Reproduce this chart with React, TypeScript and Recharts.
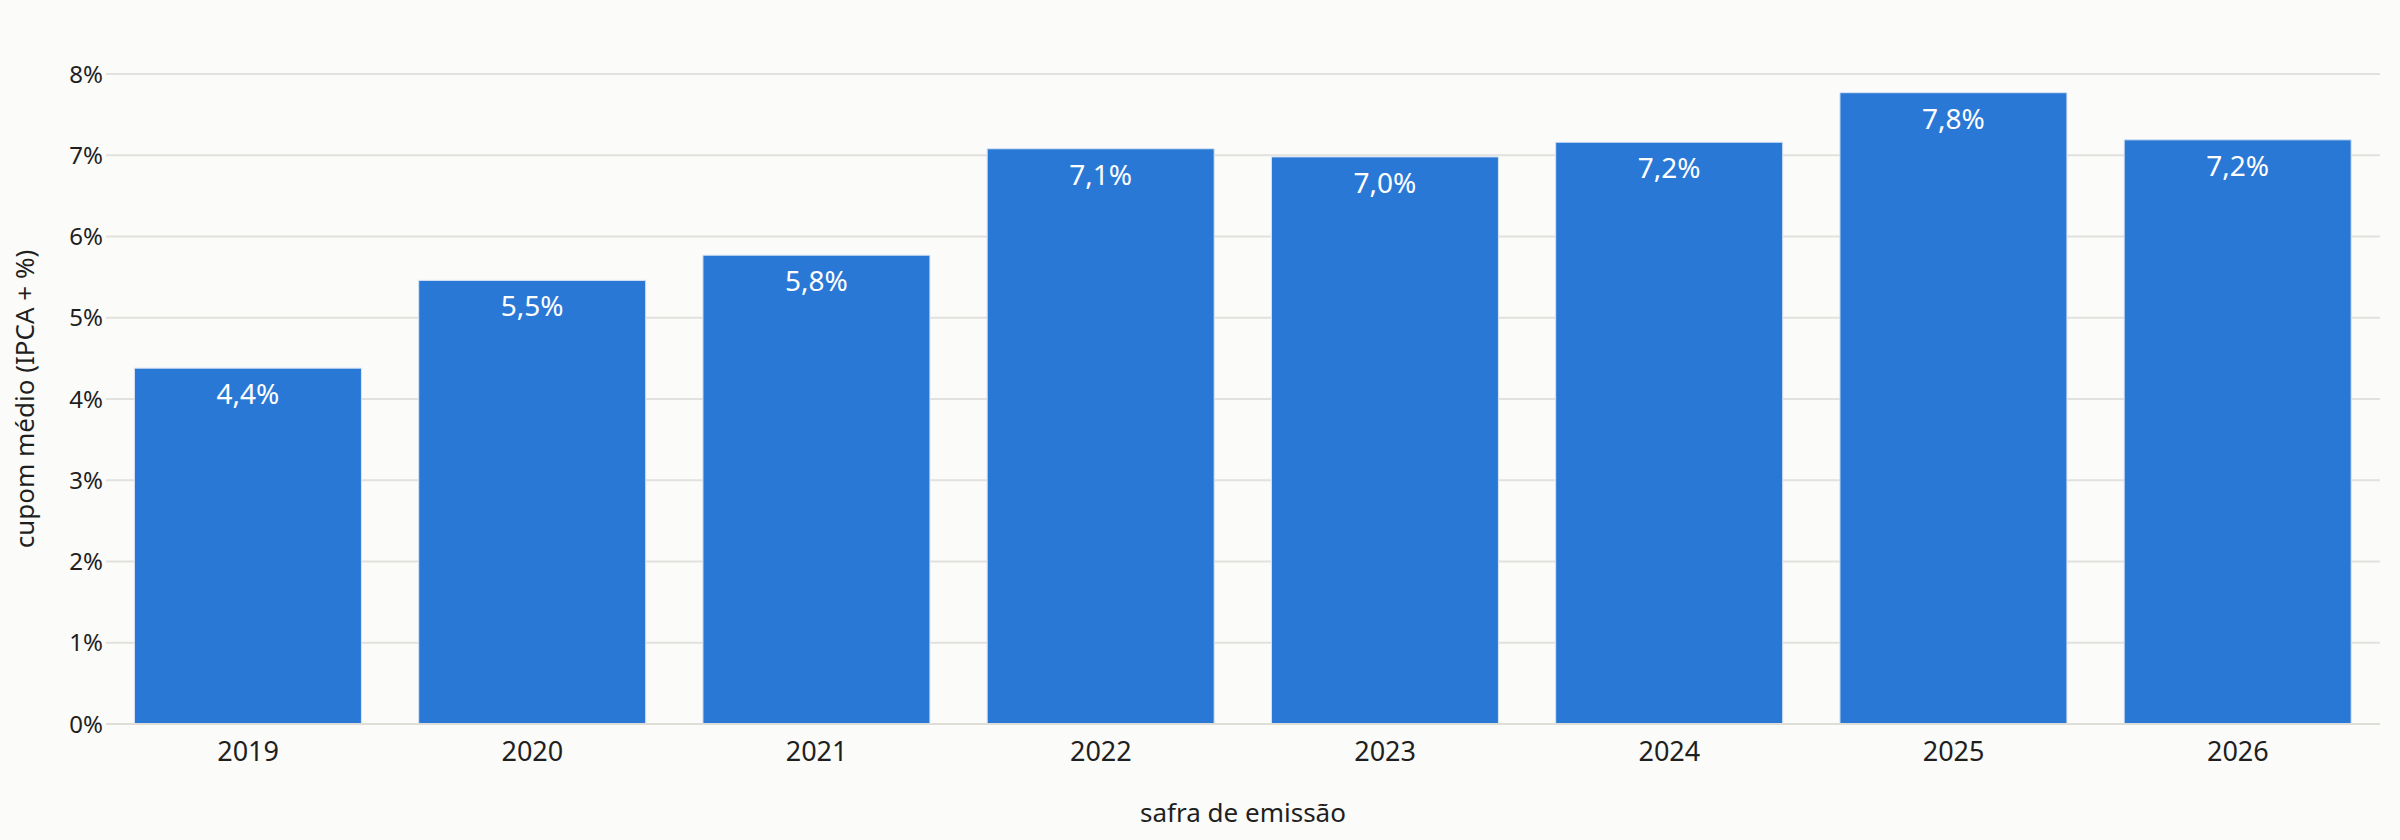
import { BarChart, Bar, XAxis, YAxis, CartesianGrid, LabelList } from 'recharts';

const years = ['2019', '2020', '2021', '2022', '2023', '2024', '2025', '2026'];
const avgCoupon = [4.38, 5.46, 5.77, 7.08, 6.98, 7.16, 7.77, 7.19];
const yTicks = [0, 1, 2, 3, 4, 5, 6, 7, 8];

const FONT = '"Noto Sans", "Open Sans", sans-serif';
const INK = '#1f1f1f';
const BAR = '#2A78D6';

const chartData = years.map((y, i) => ({ year: y, value: avgCoupon[i] }));

const pct = (v: number) => `${v.toFixed(1).replace('.', ',')}%`;

function YTitle({ viewBox }: any) {
  const cx = viewBox.x + 24;
  const cy = viewBox.y + viewBox.height / 2;
  return (
    <text
      x={cx}
      y={cy}
      transform={`rotate(-90 ${cx} ${cy})`}
      textAnchor="middle"
      dominantBaseline="central"
      fill={INK}
      style={{ fontSize: 26, fontFamily: FONT }}
    >
      cupom médio (IPCA + %)
    </text>
  );
}

function XTitle({ viewBox }: any) {
  return (
    <text
      x={viewBox.x + viewBox.width / 2}
      y={812}
      textAnchor="middle"
      dominantBaseline="central"
      fill={INK}
      style={{ fontSize: 26, fontFamily: FONT }}
    >
      safra de emissão
    </text>
  );
}

export default function App() {
  return (
    <div style={{ width: 2400, height: 840, background: '#FBFBF9' }}>
      <style>{'body{margin:0;background:#FBFBF9}'}</style>
      <BarChart
        width={2400}
        height={840}
        data={chartData}
        margin={{ top: 74, right: 20, left: 0, bottom: 0 }}
        barCategoryGap="10%"
      >
        <CartesianGrid vertical={false} stroke="#E2E1DD" strokeWidth={2} />
        <XAxis
          dataKey="year"
          height={116}
          tickLine={false}
          tickSize={0}
          tickMargin={18}
          axisLine={{ stroke: '#DEDDD8', strokeWidth: 2 }}
          tick={{ fill: INK, fontSize: 27, fontFamily: FONT }}
          label={<XTitle />}
        />
        <YAxis
          width={106}
          domain={[0, 8]}
          ticks={yTicks}
          interval={0}
          tickFormatter={(v: number) => `${v}%`}
          axisLine={false}
          tickLine={false}
          tickSize={0}
          tickMargin={3}
          tick={{ fill: INK, fontSize: 24, fontFamily: FONT }}
          label={<YTitle />}
        />
        <Bar
          dataKey="value"
          fill={BAR}
          stroke="#D6E4F5"
          strokeWidth={1}
          isAnimationActive={false}
        >
          <LabelList
            dataKey="value"
            position="insideTop"
            offset={16}
            formatter={(v: number) => pct(v)}
            fill="#FFFFFF"
            style={{ fontSize: 28, fontFamily: FONT }}
          />
        </Bar>
      </BarChart>
    </div>
  );
}
